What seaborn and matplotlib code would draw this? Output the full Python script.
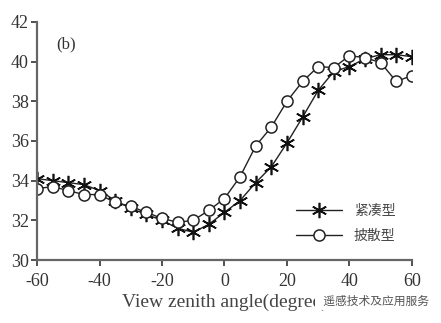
import matplotlib
matplotlib.use("Agg")
import matplotlib.pyplot as plt
import seaborn as sns
import pandas as pd

angles = [-60, -55, -50, -45, -40, -35, -30, -25, -20, -15, -10, -5, 0,
          5, 10, 15, 20, 25, 30, 35, 40, 45, 50, 55, 60]
compact = [34.1, 34.0, 33.9, 33.8, 33.5, 33.0, 32.6, 32.3, 32.0, 31.6, 31.4, 31.8, 32.4,
           33.0, 33.9, 34.7, 35.9, 37.2, 38.55, 39.5, 39.75, 40.15, 40.35, 40.35, 40.25]
spread = [33.6, 33.7, 33.5, 33.3, 33.3, 32.9, 32.7, 32.4, 32.1, 31.9, 32.0, 32.5, 33.1,
          34.2, 35.75, 36.7, 38.0, 39.0, 39.75, 39.7, 40.3, 40.2, 39.95, 39.0, 39.3]
labels = ["紧凑型", "披散型"]
xticks = [-60, -40, -20, 0, 20, 40, 60]
yticks = [30, 32, 34, 36, 38, 40, 42]

sns.set_style("ticks")
plt.rcParams['font.family'] = ['Liberation Serif', 'Noto Sans CJK SC', 'DejaVu Sans']
plt.rcParams['axes.unicode_minus'] = False

fig = plt.figure(figsize=(4.41, 3.23), dpi=100)
ax = fig.add_axes([0.084, 0.195, 0.850, 0.737])

df = pd.DataFrame({"angle": angles * 2,
                   "value": compact + spread,
                   "type": [labels[0]] * len(angles) + [labels[1]] * len(angles)})

sns.lineplot(data=df[df["type"] == labels[0]], x="angle", y="value", ax=ax,
             color="#222222", lw=1.0, marker=(6, 2, 0), markersize=11,
             markeredgewidth=1.2, markeredgecolor="#111111", label=labels[0])
sns.lineplot(data=df[df["type"] == labels[1]], x="angle", y="value", ax=ax,
             color="#222222", lw=1.0, marker="o", markersize=8,
             markerfacecolor="white", markeredgewidth=1.1, markeredgecolor="#222222",
             label=labels[1])

ax.set_xlim(-60, 60)
ax.set_ylim(30, 42)
ax.set_xticks(xticks)
ax.set_yticks(yticks)
ax.tick_params(labelsize=13, length=4, width=1.2, colors="#333333", labelcolor="#333333")
ax.tick_params(axis="x", pad=5)
ax.tick_params(axis="y", pad=2)
for s in ["top", "right"]:
    ax.spines[s].set_visible(False)
for s in ["left", "bottom"]:
    ax.spines[s].set_linewidth(1.6)
    ax.spines[s].set_color("#666666")

ax.set_xlabel("View zenith angle(degree)", fontsize=14, color="#444444", labelpad=3)
ax.set_ylabel("")
ax.text(0.05, 0.94, "(b)", transform=ax.transAxes, fontsize=12, color="#333333",
        va="top")

leg = ax.legend(loc="lower right", bbox_to_anchor=(0.99, 0.02), frameon=False,
                fontsize=10, handlelength=3.3, labelspacing=0.85, handletextpad=0.9,
                labelcolor="#444444")

fig.text(0.72, 0.068, "  遥感技术及应用服务", fontsize=8.5, color="#555555",
         family=['Noto Sans CJK SC', 'DejaVu Sans'], va="center",
         bbox=dict(facecolor="white", edgecolor="none", pad=2))

fig.savefig("out.png", dpi=100)
